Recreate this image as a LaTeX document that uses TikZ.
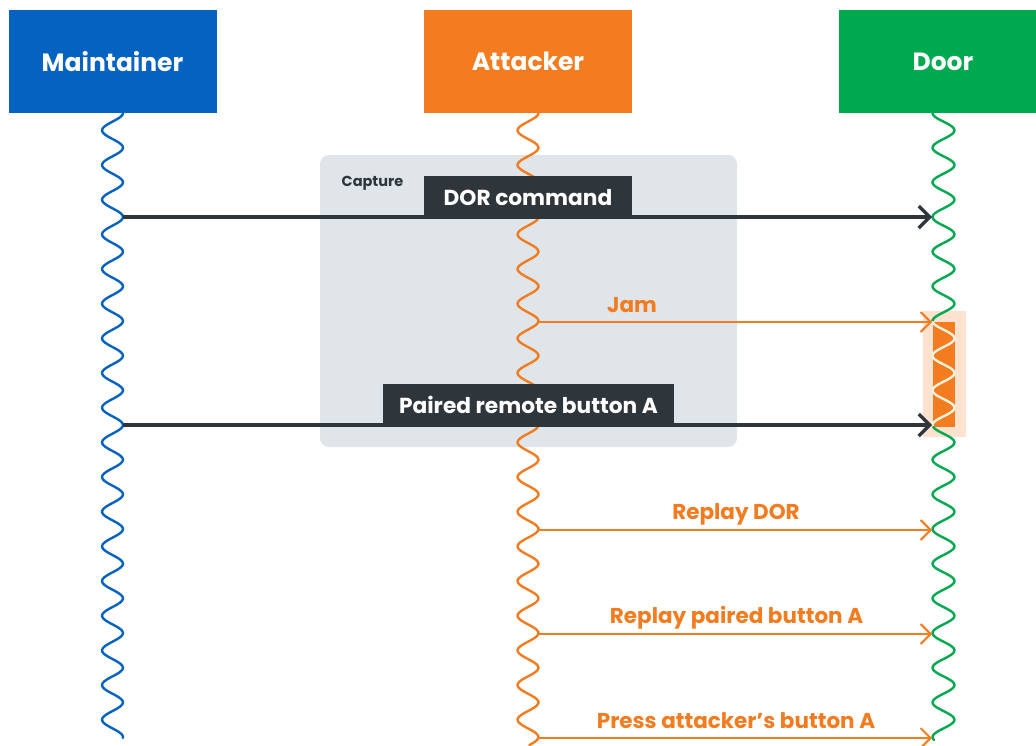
\documentclass[tikz,border=0pt]{standalone}
\usepackage{fontspec}
\setmainfont{Poppins}
\usetikzlibrary{arrows.meta}
\definecolor{mblue}{HTML}{0562C0}
\definecolor{aorange}{HTML}{F47C20}
\definecolor{dgreen}{HTML}{00A84F}
\definecolor{slate}{HTML}{2E363C}
\definecolor{capgray}{HTML}{DFE5E9}
\definecolor{jampeach}{HTML}{FDE2CF}
\definecolor{cream}{HTML}{F4F1DA}
\tikzset{
  actor/.style={fill=#1, text=white, minimum width=208, minimum height=103, inner sep=0, font=\fontsize{25}{27}\selectfont\bfseries},
  msgbox/.style={fill=slate, text=white, minimum height=43, inner sep=0, font=\fontsize{21.7}{24}\selectfont\bfseries},
  olabel/.style={text=aorange, anchor=base, inner sep=0, font=\fontsize{21.5}{24}\selectfont\bfseries},
  darkmsg/.style={draw=slate, line width=3.2, -{Straight Barb[length=11,width=22,line width=3.2]}},
  jammsg/.style={draw=aorange, line width=2, -{Straight Barb[length=10,width=20,line width=2]}},
  wave/.style={line width=2.4, line cap=round}
}
\begin{document}
\begin{tikzpicture}[x=1pt, y=-1pt]
\useasboundingbox (0,0) rectangle (1036,745);
%capture area
\fill[capgray, rounded corners=9] (320,155) rectangle (737,447);
\node[text=slate, inner sep=0, anchor=base, font=\fontsize{14.5}{16}\selectfont\bfseries] (cap) at (372.5,186) {Capture};
%actors
\node[actor=mblue] (maint) at (112.5,61.5) {Maintainer};
\node[actor=aorange] (att) at (528,61.5) {Attacker};
\node[actor=dgreen] (door) at (943,61.5) {Door};
%lifelines
\draw[wave, mblue] plot[domain=113:738, samples=320, smooth] ({112.5+10.5*sin((\x-217)*10.3836+90)}, \x);
\draw[wave, aorange] plot[domain=113:745, samples=320, smooth] ({528+10.5*sin((\x-217)*10.3836+90)}, \x);
\fill[jampeach] (923,311) rectangle (966,437);
\fill[aorange] (933,322) rectangle (955,427);
\draw[wave, dgreen] plot[domain=113:322, samples=120, smooth] ({943.5-11*sin((\x-217)*10.3836+90)}, \x);
\draw[wave, cream] plot[domain=322:427, samples=80, smooth] ({943.5-11*sin((\x-217)*10.3836+90)}, \x);
\draw[wave, dgreen] plot[domain=427:740, samples=200, smooth] ({943.5-11*sin((\x-217)*10.3836+90)}, \x);
%messages
\coordinate (m1) at (123,217);
\coordinate (d1) at (932,217);
\coordinate (a2) at (538.5,322);
\coordinate (d2) at (932,322);
\coordinate (m3) at (123,425);
\coordinate (d3) at (932,425);
\coordinate (a4) at (538.5,530);
\coordinate (d4) at (932,530);
\coordinate (a5) at (538.5,634);
\coordinate (d5) at (932,634);
\coordinate (a6) at (538.5,738);
\coordinate (d6) at (932,738);
\draw[darkmsg] (m1) -- (d1);
\draw[jammsg] (a2) -- (d2);
\draw[darkmsg] (m3) -- (d3);
\draw[jammsg] (a4) -- (d4);
\draw[jammsg] (a5) -- (d5);
\draw[jammsg] (a6) -- (d6);
%labels
\node[msgbox, minimum width=208] (dor) at (528,197.5) {DOR command};
\node[msgbox, minimum width=291] (paired) at (528.5,405) {Paired remote button A};
\node[olabel] (jam) at (632,312) {Jam};
\node[olabel] (rdor) at (736,519) {Replay DOR};
\node[olabel] (rpair) at (736.5,623) {Replay paired button A};
\node[olabel] (press) at (736,728) {Press attacker’s button A};
\end{tikzpicture}
\end{document}
